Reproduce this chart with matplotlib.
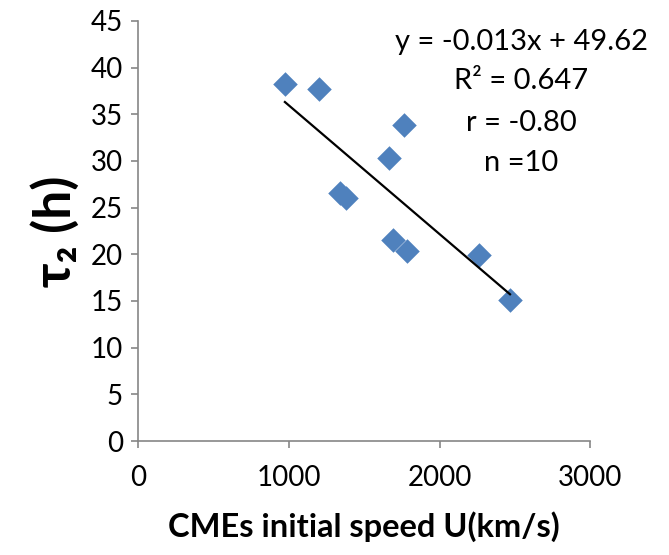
import matplotlib
matplotlib.use("Agg")
import matplotlib.pyplot as plt
import numpy as np

plt.rcParams['font.family'] = ['Lato', 'DejaVu Sans']

speed = [973, 1199, 1765, 1666, 1338, 1378, 1688, 1781, 2263, 2467]
tau2 = [38.2, 37.7, 33.9, 30.3, 26.6, 26.0, 21.5, 20.4, 19.9, 15.1]
annotations = ["y = -0.013x + 49.62", "R² = 0.647", "r = -0.80", "n =10"]
xticks = [0, 1000, 2000, 3000]
yticks = list(range(0, 46, 5))

fig = plt.figure(figsize=(6.69, 5.55), dpi=100)
ax = fig.add_axes([0.2067, 0.2054, 0.6757, 0.7568])

ax.scatter(speed, tau2, marker='D', s=12.5**2, color='#4F81BD', zorder=3, linewidths=0)
coef = np.polyfit(speed, tau2, 1)
xs = np.array([min(speed), max(speed)])
ax.plot(xs, np.polyval(coef, xs), color='black', lw=1.6, zorder=4)

ax.set_xlim(0, 3000)
ax.set_ylim(0, 45)
ax.set_xticks(xticks)
ax.set_yticks(yticks)
for s in ['top', 'right']:
    ax.spines[s].set_visible(False)
for s in ['left', 'bottom']:
    ax.spines[s].set_color('#868686')
    ax.spines[s].set_linewidth(1.2)
ax.tick_params(axis='both', direction='out', length=5, width=1.2, color='#868686',
               labelsize=20, labelcolor='black', pad=6)
ax.tick_params(axis='x', pad=12)

ax.set_xlabel("CMEs initial speed U(km/s)", fontsize=23.5, fontweight='bold', labelpad=15)
ax.set_ylabel("τ₂ (h)", fontsize=37, fontweight='bold', labelpad=8)

ys = [0.951, 0.856, 0.757, 0.662]
for t, y in zip(annotations, ys):
    ax.text(0.847, y, t, transform=ax.transAxes, ha='center', va='center', fontsize=21)

fig.savefig("out.png", dpi=100)
